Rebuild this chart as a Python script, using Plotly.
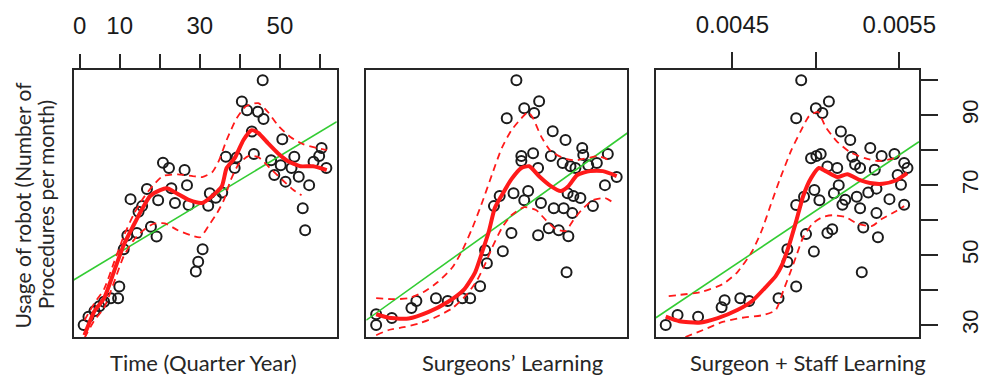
import plotly.graph_objects as go

# ---- Panel 1: usage vs time (quarter year) ----
time_q = [1.0, 2.2, 3.7, 4.9, 6.1, 7.8, 9.6, 9.9, 11.0, 11.9, 12.7, 14.3, 14.7, 15.6,
          16.8, 17.8, 19.2, 19.6, 20.8, 22.3, 22.9, 23.8, 26.2, 26.8, 27.2, 29.0, 29.6,
          30.7, 32.1, 32.5, 34.0, 35.6, 36.5, 38.7, 39.2, 40.5, 41.8, 43.0, 43.5, 44.5,
          45.7, 45.9, 47.8, 48.6, 50.2, 50.6, 51.4, 52.9, 53.6, 54.7, 55.7, 56.3, 57.3,
          58.4, 59.8, 60.4, 61.6]
usage_t = [30.0, 32.4, 34.0, 35.4, 36.7, 37.7, 37.7, 41.0, 51.7, 55.6, 66.0, 56.3, 62.4,
           64.0, 68.9, 58.1, 55.3, 65.7, 76.4, 74.9, 69.1, 64.9, 74.3, 70.0, 64.3, 45.3,
           48.1, 51.7, 64.1, 67.7, 66.4, 67.9, 78.1, 74.9, 77.9, 93.9, 91.4, 85.3, 78.9,
           91.0, 100.0, 88.9, 77.1, 72.9, 75.7, 83.1, 71.0, 74.9, 78.1, 72.4, 63.4, 57.1,
           70.0, 76.7, 78.3, 80.6, 74.9]
loess_t_x = [1.2, 3.7, 6.1, 8.6, 11.0, 13.5, 15.7, 17.6, 20.1, 21.8, 24.2, 27.4, 30.6,
             33.1, 35.5, 36.7, 38.7, 40.9, 42.9, 44.6, 47.0, 49.5, 51.9, 55.1, 58.3, 61.7]
loess_t_y = [27.1, 34.0, 37.7, 45.4, 52.9, 58.6, 63.4, 66.9, 68.6, 69.1, 67.7, 65.7, 64.9,
             66.9, 69.7, 74.9, 77.7, 82.9, 85.7, 84.9, 82.0, 79.1, 76.9, 75.4, 75.4, 74.3]
upper_t_x = [1.2, 3.7, 6.1, 8.6, 11.0, 13.5, 15.9, 18.4, 20.8, 24.5, 28.2, 30.6, 33.1,
             34.8, 36.7, 39.2, 41.6, 44.6, 47.0, 49.5, 52.7, 55.8, 59.3, 61.7]
upper_t_y = [31.4, 36.3, 40.3, 48.0, 55.4, 61.7, 66.3, 70.0, 72.6, 73.1, 72.6, 72.3, 73.7,
             77.1, 82.9, 89.1, 92.6, 93.4, 90.9, 87.1, 83.7, 81.7, 80.6, 80.0]
lower_t_x = [1.2, 3.7, 6.1, 8.6, 11.0, 13.5, 15.9, 18.4, 21.3, 24.5, 27.7, 30.1, 32.3,
             34.3, 36.0, 37.7, 39.7, 42.1, 44.6, 47.5, 50.7, 53.4, 55.4]
lower_t_y = [26.3, 31.4, 34.9, 42.3, 49.7, 54.3, 57.1, 58.9, 59.1, 57.1, 55.7, 55.1, 58.6,
             62.0, 65.7, 71.4, 76.0, 78.3, 78.0, 74.9, 71.4, 68.6, 67.1]
lm_t_x = [-1.5, 64.2]
lm_t_y = [42.9, 88.1]

# ---- Panel 2: usage vs surgeons' learning ----
surg_learn = [3.8, 3.8, 9.8, 17.3, 19.2, 26.7, 31.2, 36.8, 39.8, 43.6, 45.5, 46.2, 48.9,
              51.1, 52.3, 53.8, 55.6, 56.4, 57.5, 59.4, 59.4, 60.5, 60.5, 62.0, 63.9, 64.3,
              65.8, 65.8, 66.2, 66.9, 69.9, 70.7, 71.4, 71.8, 73.7, 75.2, 75.6, 76.3, 76.7,
              77.1, 77.4, 78.2, 78.9, 79.3, 80.1, 82.0, 82.7, 83.1, 85.0, 86.8, 88.3, 91.4,
              92.5, 95.9]
usage_s = [30.0, 33.1, 32.0, 34.9, 36.9, 37.7, 36.9, 37.7, 37.7, 41.1, 51.4, 47.7, 64.0,
           66.9, 51.1, 89.1, 56.3, 67.7, 100.0, 78.3, 76.9, 92.0, 65.7, 68.3, 79.1, 90.6,
           74.9, 55.7, 94.0, 64.9, 57.7, 78.3, 85.4, 63.4, 57.1, 76.3, 63.4, 82.9, 45.1,
           67.7, 55.4, 75.4, 62.0, 66.9, 74.9, 66.3, 80.6, 78.6, 75.7, 64.0, 76.3, 70.0,
           78.9, 72.3]
loess_s_x = [3.8, 9.4, 16.2, 23.7, 31.2, 37.6, 41.7, 44.4, 47.0, 49.2, 51.9, 55.6, 59.4,
             62.4, 66.5, 70.7, 74.4, 77.4, 80.8, 85.7, 90.6, 95.9]
loess_s_y = [33.1, 32.0, 31.9, 33.7, 36.6, 40.3, 45.1, 50.9, 56.9, 63.4, 67.1, 71.7, 74.9,
             75.4, 72.3, 69.7, 68.3, 69.7, 72.9, 74.0, 74.0, 72.6]
upper_s_x = [3.8, 10.5, 16.2, 21.8, 27.4, 33.1, 36.8, 40.6, 44.4, 48.1, 51.9, 55.6, 59.4,
             62.0, 63.9, 66.9, 70.7, 75.6, 80.1, 84.6, 88.7, 93.2]
upper_s_y = [37.7, 37.4, 37.7, 39.4, 42.3, 46.6, 51.4, 57.7, 65.1, 72.9, 80.6, 85.7, 89.1,
             90.9, 89.1, 84.0, 79.7, 77.7, 77.1, 77.7, 78.3, 77.1]
lower_s_x = [3.8, 8.6, 14.3, 20.7, 26.7, 33.1, 38.7, 42.5, 45.5, 48.1, 51.9, 55.6, 60.5,
             65.0, 68.8, 72.6, 76.3, 79.3, 82.7, 86.8, 91.4, 94.4]
lower_s_y = [27.1, 28.6, 29.4, 30.6, 32.3, 34.9, 38.9, 42.9, 47.4, 52.0, 57.7, 61.4, 63.7,
             62.9, 60.0, 57.4, 56.9, 60.0, 63.1, 65.7, 66.3, 65.1]
lm_s_x = [0.0, 100.0]
lm_s_y = [31.4, 84.9]

# ---- Panel 3: usage vs surgeon + staff learning ----
staff_learn = [0.004100, 0.004171, 0.004294, 0.004435, 0.004453, 0.004547, 0.004600,
               0.004776, 0.004829, 0.004829, 0.004882, 0.004882, 0.004882, 0.004912,
               0.004929, 0.004941, 0.004971, 0.004988, 0.004991, 0.005000, 0.005003,
               0.005021, 0.005029, 0.005039, 0.005069, 0.005069, 0.005078, 0.005098,
               0.005108, 0.005128, 0.005137, 0.005150, 0.005159, 0.005176, 0.005206,
               0.005218, 0.005235, 0.005245, 0.005265, 0.005265, 0.005275, 0.005284,
               0.005314, 0.005326, 0.005353, 0.005363, 0.005363, 0.005372, 0.005394,
               0.005441, 0.005471, 0.005490, 0.005510, 0.005529, 0.005529, 0.005549]
usage_f = [30.0, 32.9, 32.4, 35.1, 37.1, 37.7, 36.9, 37.7, 51.7, 48.0, 41.0, 89.1, 64.3,
           100.0, 66.7, 56.0, 77.7, 51.0, 68.6, 92.0, 78.3, 65.7, 78.9, 90.6, 75.3, 56.3,
           93.9, 57.4, 67.7, 74.9, 70.0, 85.3, 64.4, 65.8, 82.9, 78.1, 75.9, 66.7, 74.9,
           63.4, 45.1, 57.9, 67.9, 80.6, 74.4, 69.0, 62.0, 55.1, 78.3, 66.0, 78.9, 72.9,
           70.1, 76.3, 64.4, 74.9]
loess_f_x = [0.004100, 0.004182, 0.004300, 0.004412, 0.004529, 0.004618, 0.004694,
             0.004759, 0.004794, 0.004841, 0.004882, 0.004924, 0.004971, 0.005018,
             0.005059, 0.005129, 0.005188, 0.005265, 0.005324, 0.005400, 0.005482, 0.005547]
loess_f_y = [32.4, 31.1, 30.7, 32.0, 34.3, 36.9, 40.6, 44.0, 46.9, 53.1, 59.7, 66.9, 72.0,
             74.9, 74.0, 72.3, 73.1, 71.4, 70.6, 70.4, 71.4, 73.4]
upper_f_x = [0.004118, 0.004176, 0.004306, 0.004441, 0.004529, 0.004618, 0.004676,
             0.004729, 0.004782, 0.004853, 0.004912, 0.004959, 0.005012, 0.005059,
             0.005124, 0.005206, 0.005294, 0.005371, 0.005447, 0.005500]
upper_f_y = [38.3, 38.6, 39.4, 41.7, 45.1, 51.1, 57.1, 64.3, 71.4, 80.0, 85.7, 89.7, 90.9,
             86.6, 82.6, 79.4, 77.7, 76.9, 77.4, 78.3]
lower_f_x = [0.004218, 0.004324, 0.004441, 0.004559, 0.004688, 0.004759, 0.004806,
             0.004847, 0.004882, 0.004924, 0.004982, 0.005041, 0.005100, 0.005176,
             0.005253, 0.005335, 0.005394, 0.005471, 0.005529]
lower_f_y = [26.6, 28.6, 30.9, 32.1, 32.9, 34.3, 40.0, 45.1, 49.7, 55.1, 59.1, 60.9, 61.4,
             60.9, 58.9, 58.3, 60.3, 62.3, 64.0]
lm_f_x = [0.004041, 0.005618]
lm_f_y = [32.1, 82.4]

# ---- axis ticks and titles ----
time_ticks = [0, 10, 20, 30, 40, 50, 60]
time_labels = ["0", "10", "", "30", "", "50", ""]
staff_ticks = [0.0045, 0.0050, 0.0055]
staff_labels = ["0.0045", "", "0.0055"]
usage_ticks = [30, 40, 50, 60, 70, 80, 90, 100]
usage_labels = ["30", "", "50", "", "70", "", "90", ""]
panel_titles = ["Time (Quarter Year)", "Surgeons\u2019 Learning", "Surgeon + Staff Learning"]
y_title = ["Usage of robot (Number of", "Procedures per month)"]

W, H = 990, 377
Y_RANGE = [26.6, 102.9]
PT_COLOR = "#1c1c1c"
RED = "#ff1a1a"
GREEN = "#33cc33"

panels = [
    dict(x=time_q, y=usage_t, lx=loess_t_x, ly=loess_t_y, ux=upper_t_x, uy=upper_t_y,
         dx=lower_t_x, dy=lower_t_y, mx=lm_t_x, my=lm_t_y),
    dict(x=surg_learn, y=usage_s, lx=loess_s_x, ly=loess_s_y, ux=upper_s_x, uy=upper_s_y,
         dx=lower_s_x, dy=lower_s_y, mx=lm_s_x, my=lm_s_y),
    dict(x=staff_learn, y=usage_f, lx=loess_f_x, ly=loess_f_y, ux=upper_f_x, uy=upper_f_y,
         dx=lower_f_x, dy=lower_f_y, mx=lm_f_x, my=lm_f_y),
]

fig = go.Figure()
for i, p in enumerate(panels):
    xa = "x" if i == 0 else f"x{i + 1}"
    ya = "y" if i == 0 else f"y{i + 1}"
    fig.add_trace(go.Scatter(x=p["x"], y=p["y"], mode="markers", xaxis=xa, yaxis=ya,
                             marker=dict(symbol="circle-open", size=10, color=PT_COLOR,
                                         line=dict(width=2, color=PT_COLOR))))
    fig.add_trace(go.Scatter(x=p["mx"], y=p["my"], mode="lines", xaxis=xa, yaxis=ya,
                             line=dict(color=GREEN, width=1.6)))
    for bx, by in ((p["ux"], p["uy"]), (p["dx"], p["dy"])):
        fig.add_trace(go.Scatter(x=bx, y=by, mode="lines", xaxis=xa, yaxis=ya,
                                 line=dict(color=RED, width=1.8, dash="7px,5px",
                                           shape="spline", smoothing=0.6)))
    fig.add_trace(go.Scatter(x=p["lx"], y=p["ly"], mode="lines", xaxis=xa, yaxis=ya,
                             line=dict(color=RED, width=4, shape="spline", smoothing=0.6)))

box = dict(showline=True, mirror=True, linecolor="#262626", linewidth=2,
           showgrid=False, zeroline=False)
tick_font = dict(family="Liberation Sans, Arial, sans-serif", size=24, color="#1a1a1a")

x_domains = [[74 / W, 342 / W], [372 / W, 638 / W], [667 / W, 935 / W]]
y_domain = [1 - 337 / H, 1 - 70 / H]

fig.update_layout(
    width=W, height=H, margin=dict(l=0, r=0, t=0, b=0),
    paper_bgcolor="white", plot_bgcolor="white", showlegend=False,
    xaxis=dict(**box, domain=x_domains[0], range=[-1.5, 64.2], side="top",
               tickmode="array", tickvals=time_ticks, ticktext=time_labels,
               ticks="outside", ticklen=14, tickwidth=2, tickcolor="#262626",
               tickfont=tick_font, ticklabelstandoff=10),
    xaxis2=dict(**box, domain=x_domains[1], range=[0, 100], anchor="y2",
                showticklabels=False, ticks=""),
    xaxis3=dict(**box, domain=x_domains[2], range=[0.004041, 0.005618], anchor="y3",
                side="top", tickmode="array", tickvals=staff_ticks, ticktext=staff_labels,
                ticks="outside", ticklen=16, tickwidth=2, tickcolor="#262626",
                tickfont=tick_font, ticklabelstandoff=9),
    yaxis=dict(**box, domain=y_domain, range=Y_RANGE, anchor="x",
               showticklabels=False, ticks=""),
    yaxis2=dict(**box, domain=y_domain, range=Y_RANGE, anchor="x2",
                showticklabels=False, ticks=""),
    yaxis3=dict(**box, domain=y_domain, range=Y_RANGE, anchor="x3", side="right",
                tickmode="array", tickvals=usage_ticks, ticktext=usage_labels,
                ticks="outside", ticklen=17, tickwidth=2, tickcolor="#262626",
                tickangle=-90, ticklabelstandoff=14,
                tickfont=dict(family="Liberation Sans, Arial, sans-serif", size=22,
                              color="#1a1a1a")),
)

label_font = dict(family="Lato, Open Sans, sans-serif", size=22, color="#262626")
title_centers = [206, 521, 822]
for cx, txt in zip(title_centers, panel_titles):
    fig.add_annotation(text=txt, x=cx / W, y=1 - 362 / H, xref="paper", yref="paper",
                       showarrow=False, font=label_font, xanchor="center", yanchor="middle")
for cx, txt in zip([22, 46], y_title):
    fig.add_annotation(text=txt, x=cx / W, y=1 - 205 / H, xref="paper", yref="paper",
                       showarrow=False, font=dict(label_font, size=21), textangle=-90,
                       xanchor="center", yanchor="middle")

fig.write_html("out.html")
